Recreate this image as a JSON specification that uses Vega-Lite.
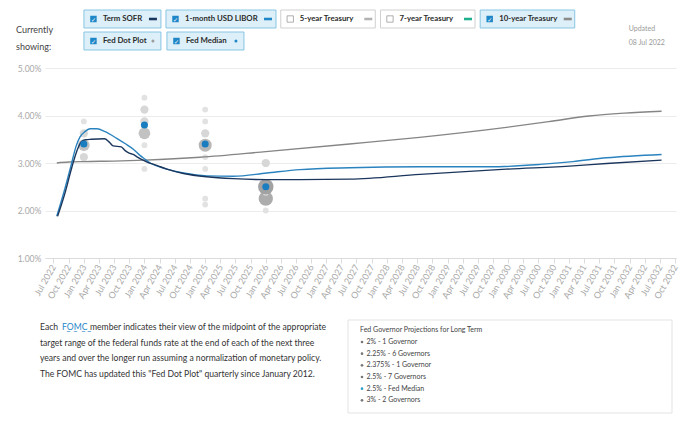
{
 "$schema": "https://vega.github.io/schema/vega-lite/v6.json",
 "background": "white",
 "padding": {"left": 16, "top": 8, "right": 4, "bottom": 4},
 "spacing": 12,
 "config": {"font": "Lato", "view": {"stroke": null}},
 "resolve": {"scale": {"color": "independent", "fill": "independent", "size": "independent", "stroke": "independent", "shape": "independent"}},
 "datasets": {
  "chips": [
   {"label": "Term SOFR", "group": "A", "row": 1, "col": 1, "checked": "yes", "kind": "line", "series": "Term SOFR"},
   {"label": "Fed Dot Plot", "group": "A", "row": 2, "col": 1, "checked": "yes", "kind": "dot", "series": "Fed Dot Plot"},
   {"label": "Fed Median", "group": "A", "row": 2, "col": 2, "checked": "yes", "kind": "dot", "series": "Fed Median"},
   {"label": "1-month USD LIBOR", "group": "B", "row": 1, "col": 2, "checked": "yes", "kind": "line", "series": "1-month USD LIBOR"},
   {"label": "5-year Treasury", "group": "C", "row": 1, "col": 3, "checked": "no", "kind": "line", "series": "5-year Treasury"},
   {"label": "7-year Treasury", "group": "C", "row": 1, "col": 4, "checked": "no", "kind": "line", "series": "7-year Treasury"},
   {"label": "10-year Treasury", "group": "C", "row": 1, "col": 5, "checked": "yes", "kind": "line", "series": "10-year Treasury"}
  ],
  "notes": [
   {"side": "left", "group": "C", "row": 1, "col": 1, "text": "Currently\nshowing:"},
   {"side": "right", "group": "C", "row": 1, "col": 5, "text": "Updated\n08 Jul 2022"}
  ],
  "lines": [
   {"series": "10-year Treasury", "date": "2022-07-22", "rate": 3.00},
   {"series": "10-year Treasury", "date": "2022-10-01", "rate": 3.02},
   {"series": "10-year Treasury", "date": "2023-01-01", "rate": 3.03},
   {"series": "10-year Treasury", "date": "2023-07-01", "rate": 3.04},
   {"series": "10-year Treasury", "date": "2024-01-01", "rate": 3.06},
   {"series": "10-year Treasury", "date": "2024-12-01", "rate": 3.12},
   {"series": "10-year Treasury", "date": "2026-01-01", "rate": 3.24},
   {"series": "10-year Treasury", "date": "2027-05-20", "rate": 3.40},
   {"series": "10-year Treasury", "date": "2028-07-15", "rate": 3.54},
   {"series": "10-year Treasury", "date": "2029-12-20", "rate": 3.75},
   {"series": "10-year Treasury", "date": "2030-09-01", "rate": 3.87},
   {"series": "10-year Treasury", "date": "2031-05-01", "rate": 3.99},
   {"series": "10-year Treasury", "date": "2031-12-01", "rate": 4.05},
   {"series": "10-year Treasury", "date": "2032-07-12", "rate": 4.09},
   {"series": "1-month USD LIBOR", "date": "2022-07-22", "rate": 1.88},
   {"series": "1-month USD LIBOR", "date": "2022-09-04", "rate": 2.40},
   {"series": "1-month USD LIBOR", "date": "2022-10-16", "rate": 2.95},
   {"series": "1-month USD LIBOR", "date": "2022-11-15", "rate": 3.35},
   {"series": "1-month USD LIBOR", "date": "2022-12-09", "rate": 3.55},
   {"series": "1-month USD LIBOR", "date": "2023-01-07", "rate": 3.66},
   {"series": "1-month USD LIBOR", "date": "2023-02-08", "rate": 3.72},
   {"series": "1-month USD LIBOR", "date": "2023-03-21", "rate": 3.72},
   {"series": "1-month USD LIBOR", "date": "2023-05-09", "rate": 3.66},
   {"series": "1-month USD LIBOR", "date": "2023-07-18", "rate": 3.52},
   {"series": "1-month USD LIBOR", "date": "2023-09-06", "rate": 3.41},
   {"series": "1-month USD LIBOR", "date": "2023-10-26", "rate": 3.29},
   {"series": "1-month USD LIBOR", "date": "2023-12-05", "rate": 3.16},
   {"series": "1-month USD LIBOR", "date": "2024-01-05", "rate": 3.08},
   {"series": "1-month USD LIBOR", "date": "2024-02-05", "rate": 3.00},
   {"series": "1-month USD LIBOR", "date": "2024-03-15", "rate": 2.94},
   {"series": "1-month USD LIBOR", "date": "2024-05-15", "rate": 2.87},
   {"series": "1-month USD LIBOR", "date": "2024-08-23", "rate": 2.79},
   {"series": "1-month USD LIBOR", "date": "2025-01-11", "rate": 2.73},
   {"series": "1-month USD LIBOR", "date": "2025-06-20", "rate": 2.72},
   {"series": "1-month USD LIBOR", "date": "2026-01-07", "rate": 2.79},
   {"series": "1-month USD LIBOR", "date": "2026-07-26", "rate": 2.86},
   {"series": "1-month USD LIBOR", "date": "2027-05-23", "rate": 2.90},
   {"series": "1-month USD LIBOR", "date": "2028-07-18", "rate": 2.92},
   {"series": "1-month USD LIBOR", "date": "2029-09-12", "rate": 2.92},
   {"series": "1-month USD LIBOR", "date": "2030-07-10", "rate": 2.97},
   {"series": "1-month USD LIBOR", "date": "2031-01-25", "rate": 3.03},
   {"series": "1-month USD LIBOR", "date": "2031-08-16", "rate": 3.11},
   {"series": "1-month USD LIBOR", "date": "2032-07-12", "rate": 3.18},
   {"series": "Term SOFR", "date": "2022-07-27", "rate": 1.88},
   {"series": "Term SOFR", "date": "2022-09-08", "rate": 2.35},
   {"series": "Term SOFR", "date": "2022-10-20", "rate": 2.90},
   {"series": "Term SOFR", "date": "2022-11-25", "rate": 3.30},
   {"series": "Term SOFR", "date": "2022-12-18", "rate": 3.45},
   {"series": "Term SOFR", "date": "2023-01-12", "rate": 3.49},
   {"series": "Term SOFR", "date": "2023-02-16", "rate": 3.50},
   {"series": "Term SOFR", "date": "2023-05-05", "rate": 3.51},
   {"series": "Term SOFR", "date": "2023-06-03", "rate": 3.44},
   {"series": "Term SOFR", "date": "2023-06-27", "rate": 3.36},
   {"series": "Term SOFR", "date": "2023-08-14", "rate": 3.34},
   {"series": "Term SOFR", "date": "2023-09-07", "rate": 3.26},
   {"series": "Term SOFR", "date": "2023-10-01", "rate": 3.21},
   {"series": "Term SOFR", "date": "2023-10-25", "rate": 3.18},
   {"series": "Term SOFR", "date": "2023-11-17", "rate": 3.13},
   {"series": "Term SOFR", "date": "2023-12-11", "rate": 3.08},
   {"series": "Term SOFR", "date": "2024-01-17", "rate": 3.02},
   {"series": "Term SOFR", "date": "2024-03-15", "rate": 2.95},
   {"series": "Term SOFR", "date": "2024-05-15", "rate": 2.87},
   {"series": "Term SOFR", "date": "2024-08-23", "rate": 2.78},
   {"series": "Term SOFR", "date": "2025-01-11", "rate": 2.71},
   {"series": "Term SOFR", "date": "2025-06-20", "rate": 2.67},
   {"series": "Term SOFR", "date": "2026-01-07", "rate": 2.65},
   {"series": "Term SOFR", "date": "2026-07-26", "rate": 2.65},
   {"series": "Term SOFR", "date": "2027-05-23", "rate": 2.66},
   {"series": "Term SOFR", "date": "2028-07-18", "rate": 2.76},
   {"series": "Term SOFR", "date": "2029-12-20", "rate": 2.87},
   {"series": "Term SOFR", "date": "2031-01-25", "rate": 2.94},
   {"series": "Term SOFR", "date": "2031-08-16", "rate": 2.99},
   {"series": "Term SOFR", "date": "2032-07-12", "rate": 3.06}
  ],
  "dots": [
   {"date": "2023-01-01", "rate": 3.875, "count": 1},
   {"date": "2023-01-01", "rate": 3.625, "count": 2},
   {"date": "2023-01-01", "rate": 3.125, "count": 2},
   {"date": "2023-01-01", "rate": 3.375, "count": 4},
   {"date": "2024-01-01", "rate": 4.375, "count": 1},
   {"date": "2024-01-01", "rate": 4.125, "count": 2},
   {"date": "2024-01-01", "rate": 3.875, "count": 2},
   {"date": "2024-01-01", "rate": 3.375, "count": 1},
   {"date": "2024-01-01", "rate": 2.875, "count": 1},
   {"date": "2024-01-01", "rate": 3.625, "count": 4},
   {"date": "2025-01-01", "rate": 4.125, "count": 1},
   {"date": "2025-01-01", "rate": 3.875, "count": 1},
   {"date": "2025-01-01", "rate": 3.625, "count": 2},
   {"date": "2025-01-01", "rate": 3.125, "count": 1},
   {"date": "2025-01-01", "rate": 2.875, "count": 1},
   {"date": "2025-01-01", "rate": 2.25, "count": 1},
   {"date": "2025-01-01", "rate": 2.125, "count": 1},
   {"date": "2025-01-01", "rate": 3.375, "count": 5},
   {"date": "2026-01-01", "rate": 2.0, "count": 1},
   {"date": "2026-01-01", "rate": 2.25, "count": 6},
   {"date": "2026-01-01", "rate": 2.375, "count": 1},
   {"date": "2026-01-01", "rate": 2.5, "count": 7},
   {"date": "2026-01-01", "rate": 3.0, "count": 2}
  ],
  "medians": [
   {"date": "2023-01-01", "rate": 3.4},
   {"date": "2024-01-01", "rate": 3.8},
   {"date": "2025-01-01", "rate": 3.4},
   {"date": "2026-01-01", "rate": 2.5}
  ],
  "proj": [
   {"panel": "box", "item": 0, "text": "Fed Governor Projections for Long Term", "bullet": "none"},
   {"panel": "box", "item": 1, "text": "2% - 1 Governor", "bullet": "gov"},
   {"panel": "box", "item": 2, "text": "2.25% - 6 Governors", "bullet": "gov"},
   {"panel": "box", "item": 3, "text": "2.375% - 1 Governor", "bullet": "gov"},
   {"panel": "box", "item": 4, "text": "2.5% - 7 Governors", "bullet": "gov"},
   {"panel": "box", "item": 5, "text": "2.5% - Fed Median", "bullet": "median"},
   {"panel": "box", "item": 6, "text": "3% - 2 Governors", "bullet": "gov"}
  ],
  "para": [
   {"block": "p", "line": 1, "part": "a", "text": "Each"},
   {"block": "p", "line": 1, "part": "link", "text": "F\u0332O\u0332M\u0332C\u0332"},
   {"block": "p", "line": 1, "part": "b", "text": "member indicates their view of the midpoint of the appropriate"},
   {"block": "p", "line": 2, "part": "a", "text": "target range of the federal funds rate at the end of each of the next three"},
   {"block": "p", "line": 3, "part": "a", "text": "years and over the longer run assuming a normalization of monetary policy."},
   {"block": "p", "line": 4, "part": "a", "text": "The FOMC has updated this \"Fed Dot Plot\" quarterly since January 2012."}
  ]
 },
 "vconcat": [
  {
   "width": 631,
   "height": 44,
   "data": {"name": "chips"},
   "resolve": {"scale": {"x": "independent"}},
   "encoding": {
    "y": {"field": "row", "type": "ordinal", "axis": null, "scale": {"type": "band", "domain": [1, 2], "paddingInner": 0.182, "paddingOuter": 0.091, "align": 0.5}}
   },
   "layer": [
    {
     "transform": [{"filter": "datum.group === 'A'"}],
     "layer": [
      {
       "mark": {"type": "rect", "fill": "#ddf0f9", "stroke": "#88c5e2", "strokeWidth": 1},
       "encoding": {"x": {"field": "col", "type": "ordinal", "axis": null, "scale": {"type": "band", "domain": [1, 2, 3, 4, 5, 6, 7], "paddingInner": 0.0723, "paddingOuter": 0.337, "align": 0.696}}}
      },
      {
       "mark": {"type": "point", "shape": "square", "filled": true, "fill": "#1f87c7", "size": 42, "opacity": 1, "xOffset": 9.5},
       "encoding": {"x": {"field": "col", "type": "ordinal", "axis": null, "bandPosition": 0, "scale": {"type": "band", "domain": [1, 2, 3, 4, 5, 6, 7], "paddingInner": 0.0723, "paddingOuter": 0.337, "align": 0.696}}}
      },
      {
       "mark": {"type": "text", "text": "\u2713", "font": "DejaVu Sans", "fontSize": 6, "fontWeight": "bold", "color": "#ffffff", "align": "center", "baseline": "middle", "dx": 9.5, "dy": 0.5},
       "encoding": {"x": {"field": "col", "type": "ordinal", "axis": null, "bandPosition": 0, "scale": {"type": "band", "domain": [1, 2, 3, 4, 5, 6, 7], "paddingInner": 0.0723, "paddingOuter": 0.337, "align": 0.696}}}
      },
      {
       "mark": {"type": "text", "font": "Lato", "fontSize": 7.8, "fontWeight": "bold", "color": "#2b2b2b", "align": "left", "baseline": "middle", "dx": 19},
       "encoding": {"x": {"field": "col", "type": "ordinal", "axis": null, "bandPosition": 0, "scale": {"type": "band", "domain": [1, 2, 3, 4, 5, 6, 7], "paddingInner": 0.0723, "paddingOuter": 0.337, "align": 0.696}}, "text": {"field": "label"}}
      },
      {
       "transform": [{"filter": "datum.kind === 'line'"}],
       "mark": {"type": "point", "shape": "M-1,-0.32H1V0.32H-1Z", "filled": true, "size": 64, "opacity": 1, "xOffset": -8},
       "encoding": {
        "x": {"field": "col", "type": "ordinal", "axis": null, "bandPosition": 1, "scale": {"type": "band", "domain": [1, 2, 3, 4, 5, 6, 7], "paddingInner": 0.0723, "paddingOuter": 0.337, "align": 0.696}},
        "color": {"field": "series", "type": "nominal", "legend": null, "scale": {"domain": ["Term SOFR", "1-month USD LIBOR", "5-year Treasury", "7-year Treasury", "10-year Treasury", "Fed Dot Plot", "Fed Median"], "range": ["#1b365d", "#1f87c7", "#b3b3b3", "#21b08f", "#8a8a8a", "#9c9c9c", "#1f87c7"]}}
       }
      },
      {
       "transform": [{"filter": "datum.kind === 'dot'"}],
       "mark": {"type": "point", "shape": "circle", "filled": true, "size": 9, "opacity": 1, "xOffset": -8},
       "encoding": {
        "x": {"field": "col", "type": "ordinal", "axis": null, "bandPosition": 1, "scale": {"type": "band", "domain": [1, 2, 3, 4, 5, 6, 7], "paddingInner": 0.0723, "paddingOuter": 0.337, "align": 0.696}},
        "color": {"field": "series", "type": "nominal", "legend": null, "scale": {"domain": ["Term SOFR", "1-month USD LIBOR", "5-year Treasury", "7-year Treasury", "10-year Treasury", "Fed Dot Plot", "Fed Median"], "range": ["#1b365d", "#1f87c7", "#b3b3b3", "#21b08f", "#8a8a8a", "#9c9c9c", "#1f87c7"]}}
       }
      }
     ]
    },
    {
     "transform": [{"filter": "datum.group === 'B'"}],
     "layer": [
      {
       "mark": {"type": "rect", "fill": "#ddf0f9", "stroke": "#88c5e2", "strokeWidth": 1},
       "encoding": {"x": {"field": "col", "type": "ordinal", "axis": null, "scale": {"type": "band", "domain": [1, 2, 3, 4, 5], "paddingInner": 0.0435, "paddingOuter": 0.265, "align": 0.098}}}
      },
      {
       "mark": {"type": "point", "shape": "square", "filled": true, "fill": "#1f87c7", "size": 42, "opacity": 1, "xOffset": 9.5},
       "encoding": {"x": {"field": "col", "type": "ordinal", "axis": null, "bandPosition": 0, "scale": {"type": "band", "domain": [1, 2, 3, 4, 5], "paddingInner": 0.0435, "paddingOuter": 0.265, "align": 0.098}}}
      },
      {
       "mark": {"type": "text", "text": "\u2713", "font": "DejaVu Sans", "fontSize": 6, "fontWeight": "bold", "color": "#ffffff", "align": "center", "baseline": "middle", "dx": 9.5, "dy": 0.5},
       "encoding": {"x": {"field": "col", "type": "ordinal", "axis": null, "bandPosition": 0, "scale": {"type": "band", "domain": [1, 2, 3, 4, 5], "paddingInner": 0.0435, "paddingOuter": 0.265, "align": 0.098}}}
      },
      {
       "mark": {"type": "text", "font": "Lato", "fontSize": 7.8, "fontWeight": "bold", "color": "#2b2b2b", "align": "left", "baseline": "middle", "dx": 19},
       "encoding": {"x": {"field": "col", "type": "ordinal", "axis": null, "bandPosition": 0, "scale": {"type": "band", "domain": [1, 2, 3, 4, 5], "paddingInner": 0.0435, "paddingOuter": 0.265, "align": 0.098}}, "text": {"field": "label"}}
      },
      {
       "mark": {"type": "point", "shape": "M-1,-0.32H1V0.32H-1Z", "filled": true, "size": 64, "opacity": 1, "xOffset": -8},
       "encoding": {
        "x": {"field": "col", "type": "ordinal", "axis": null, "bandPosition": 1, "scale": {"type": "band", "domain": [1, 2, 3, 4, 5], "paddingInner": 0.0435, "paddingOuter": 0.265, "align": 0.098}},
        "color": {"field": "series", "type": "nominal", "legend": null, "scale": {"domain": ["Term SOFR", "1-month USD LIBOR", "5-year Treasury", "7-year Treasury", "10-year Treasury", "Fed Dot Plot", "Fed Median"], "range": ["#1b365d", "#1f87c7", "#b3b3b3", "#21b08f", "#8a8a8a", "#9c9c9c", "#1f87c7"]}}
       }
      }
     ]
    },
    {
     "transform": [{"filter": "datum.group === 'C'"}],
     "layer": [
      {
       "transform": [{"filter": "datum.checked === 'yes'"}],
       "mark": {"type": "rect", "fill": "#ddf0f9", "stroke": "#88c5e2", "strokeWidth": 1},
       "encoding": {"x": {"field": "col", "type": "ordinal", "axis": null, "scale": {"type": "band", "domain": [1, 2, 3, 4, 5], "paddingInner": 0.052, "paddingOuter": 0.69, "align": 0.264}}}
      },
      {
       "transform": [{"filter": "datum.checked === 'no'"}],
       "mark": {"type": "rect", "fill": "#ffffff", "stroke": "#d0d0d0", "strokeWidth": 1},
       "encoding": {"x": {"field": "col", "type": "ordinal", "axis": null, "scale": {"type": "band", "domain": [1, 2, 3, 4, 5], "paddingInner": 0.052, "paddingOuter": 0.69, "align": 0.264}}}
      },
      {
       "transform": [{"filter": "datum.checked === 'yes'"}],
       "mark": {"type": "point", "shape": "square", "filled": true, "fill": "#1f87c7", "size": 42, "opacity": 1, "xOffset": 9.5},
       "encoding": {"x": {"field": "col", "type": "ordinal", "axis": null, "bandPosition": 0, "scale": {"type": "band", "domain": [1, 2, 3, 4, 5], "paddingInner": 0.052, "paddingOuter": 0.69, "align": 0.264}}}
      },
      {
       "transform": [{"filter": "datum.checked === 'no'"}],
       "mark": {"type": "point", "shape": "square", "filled": true, "fill": "#ffffff", "stroke": "#9b9b9b", "strokeWidth": 0.8, "size": 40, "opacity": 1, "xOffset": 9.5},
       "encoding": {"x": {"field": "col", "type": "ordinal", "axis": null, "bandPosition": 0, "scale": {"type": "band", "domain": [1, 2, 3, 4, 5], "paddingInner": 0.052, "paddingOuter": 0.69, "align": 0.264}}}
      },
      {
       "transform": [{"filter": "datum.checked === 'yes'"}],
       "mark": {"type": "text", "text": "\u2713", "font": "DejaVu Sans", "fontSize": 6, "fontWeight": "bold", "color": "#ffffff", "align": "center", "baseline": "middle", "dx": 9.5, "dy": 0.5},
       "encoding": {"x": {"field": "col", "type": "ordinal", "axis": null, "bandPosition": 0, "scale": {"type": "band", "domain": [1, 2, 3, 4, 5], "paddingInner": 0.052, "paddingOuter": 0.69, "align": 0.264}}}
      },
      {
       "mark": {"type": "text", "font": "Lato", "fontSize": 7.8, "fontWeight": "bold", "color": "#2b2b2b", "align": "left", "baseline": "middle", "dx": 19},
       "encoding": {"x": {"field": "col", "type": "ordinal", "axis": null, "bandPosition": 0, "scale": {"type": "band", "domain": [1, 2, 3, 4, 5], "paddingInner": 0.052, "paddingOuter": 0.69, "align": 0.264}}, "text": {"field": "label"}}
      },
      {
       "mark": {"type": "point", "shape": "M-1,-0.32H1V0.32H-1Z", "filled": true, "size": 64, "opacity": 1, "xOffset": -7},
       "encoding": {
        "x": {"field": "col", "type": "ordinal", "axis": null, "bandPosition": 1, "scale": {"type": "band", "domain": [1, 2, 3, 4, 5], "paddingInner": 0.052, "paddingOuter": 0.69, "align": 0.264}},
        "color": {"field": "series", "type": "nominal", "legend": null, "scale": {"domain": ["Term SOFR", "1-month USD LIBOR", "5-year Treasury", "7-year Treasury", "10-year Treasury", "Fed Dot Plot", "Fed Median"], "range": ["#1b365d", "#1f87c7", "#b3b3b3", "#21b08f", "#8a8a8a", "#9c9c9c", "#1f87c7"]}}
       }
      },
      {
       "data": {"name": "notes"},
       "transform": [{"filter": "datum.side === 'left'"}],
       "mark": {"type": "text", "font": "Lato", "fontSize": 9, "color": "#444444", "align": "left", "baseline": "middle", "lineBreak": "\n", "lineHeight": 17, "dx": -65.3, "dy": 2},
       "encoding": {
        "x": {"field": "col", "type": "ordinal", "axis": null, "bandPosition": 0, "scale": {"type": "band", "domain": [1, 2, 3, 4, 5], "paddingInner": 0.052, "paddingOuter": 0.69, "align": 0.264}},
        "y": {"field": "row", "type": "ordinal", "axis": null, "bandPosition": 1, "scale": {"type": "band", "domain": [1, 2], "paddingInner": 0.182, "paddingOuter": 0.091, "align": 0.5}},
        "text": {"field": "text"}
       }
      },
      {
       "data": {"name": "notes"},
       "transform": [{"filter": "datum.side === 'right'"}],
       "mark": {"type": "text", "font": "Lato", "fontSize": 7, "color": "#999999", "align": "left", "baseline": "middle", "lineBreak": "\n", "lineHeight": 14, "dx": 54, "dy": 1},
       "encoding": {
        "x": {"field": "col", "type": "ordinal", "axis": null, "bandPosition": 1, "scale": {"type": "band", "domain": [1, 2, 3, 4, 5], "paddingInner": 0.052, "paddingOuter": 0.69, "align": 0.264}},
        "y": {"field": "row", "type": "ordinal", "axis": null, "bandPosition": 1, "scale": {"type": "band", "domain": [1, 2], "paddingInner": 0.182, "paddingOuter": 0.091, "align": 0.5}},
        "text": {"field": "text"}
       }
      }
     ]
    }
   ]
  },
  {
   "width": 631,
   "height": 190,
   "layer": [
    {
     "data": {"name": "dots"},
     "mark": {"type": "circle", "opacity": 1},
     "encoding": {
      "x": {"field": "date", "type": "temporal",
        "scale": {"domain": [{"year": 2022, "month": 5, "date": 12}, {"year": 2032, "month": 10, "date": 7}]},
        "axis": {"title": null, "tickCount": {"interval": "month", "step": 3}, "format": "%b %Y", "labelAngle": -60, "labelAlign": "right", "labelBaseline": "middle", "labelOverlap": false, "labelFlush": false, "labelBound": false, "grid": false, "domainColor": "#dcdcdc", "tickColor": "#dcdcdc", "tickSize": 5, "labelColor": "#a9a9a9", "labelFontSize": 9, "labelFont": "Lato", "labelPadding": 2}},
      "y": {"field": "rate", "type": "quantitative",
        "scale": {"domain": [1, 5], "nice": false, "zero": false},
        "axis": {"title": null, "values": [1, 2, 3, 4, 5], "labelExpr": "format(datum.value, '.2f') + '%'", "grid": true, "gridColor": "#ececec", "domain": false, "ticks": false, "tickSize": 0, "labelPadding": 4, "labelColor": "#a9a9a9", "labelFontSize": 8.6, "labelFont": "Lato"}},
      "size": {"field": "count", "type": "quantitative", "legend": null, "scale": {"domain": [0, 7], "range": [0, 238]}},
      "fill": {"field": "count", "type": "quantitative", "legend": null, "scale": {"domain": [1, 7], "range": ["#e2e2e2", "#a2a2a2"]}}
     }
    },
    {
     "data": {"name": "lines"},
     "mark": {"type": "line", "strokeWidth": 1.4, "interpolate": "monotone"},
     "encoding": {
      "x": {"field": "date", "type": "temporal"},
      "y": {"field": "rate", "type": "quantitative"},
      "color": {"field": "series", "type": "nominal", "legend": null, "scale": {"domain": ["10-year Treasury", "1-month USD LIBOR", "Term SOFR"], "range": ["#858585", "#2a83bf", "#1b365d"]}}
     }
    },
    {
     "data": {"name": "medians"},
     "mark": {"type": "circle", "size": 50, "color": "#1a7dc0", "opacity": 1},
     "encoding": {
      "x": {"field": "date", "type": "temporal"},
      "y": {"field": "rate", "type": "quantitative"}
     }
    }
   ]
  },
  {
   "width": 627,
   "height": 104,
   "resolve": {"scale": {"x": "independent", "y": "independent"}},
   "layer": [
    {
     "data": {"values": [{"panel": "box"}]},
     "mark": {"type": "rect", "fill": "#ffffff", "stroke": "#e3e3e3", "strokeWidth": 1},
     "encoding": {
      "x": {"field": "panel", "type": "nominal", "axis": null, "scale": {"type": "band", "domain": ["box"], "paddingInner": 0, "paddingOuter": 0.4676, "align": 1}},
      "y": {"field": "panel", "type": "nominal", "axis": null, "scale": {"type": "band", "domain": ["box"], "paddingInner": 0, "paddingOuter": 0.0591, "align": 0.636}}
     }
    },
    {
     "data": {"name": "proj"},
     "transform": [{"filter": "datum.item === 0"}],
     "mark": {"type": "text", "font": "Lato", "fontSize": 7, "color": "#444444", "align": "left", "baseline": "middle", "dx": 12},
     "encoding": {
      "x": {"field": "panel", "type": "nominal", "axis": null, "bandPosition": 0, "scale": {"type": "band", "domain": ["box"], "paddingInner": 0, "paddingOuter": 0.4676, "align": 1}},
      "y": {"field": "item", "type": "ordinal", "axis": null, "scale": {"type": "band", "domain": [0, 1, 2, 3, 4, 5, 6], "paddingInner": 0, "paddingOuter": 0.956, "align": 0.516}},
      "text": {"field": "text"}
     }
    },
    {
     "data": {"name": "proj"},
     "transform": [{"filter": "datum.item > 0"}],
     "mark": {"type": "text", "font": "Lato", "fontSize": 7, "color": "#444444", "align": "left", "baseline": "middle", "dx": 18.5},
     "encoding": {
      "x": {"field": "panel", "type": "nominal", "axis": null, "bandPosition": 0, "scale": {"type": "band", "domain": ["box"], "paddingInner": 0, "paddingOuter": 0.4676, "align": 1}},
      "y": {"field": "item", "type": "ordinal", "axis": null, "scale": {"type": "band", "domain": [0, 1, 2, 3, 4, 5, 6], "paddingInner": 0, "paddingOuter": 0.956, "align": 0.516}},
      "text": {"field": "text"}
     }
    },
    {
     "data": {"name": "proj"},
     "transform": [{"filter": "datum.bullet === 'gov'"}],
     "mark": {"type": "point", "shape": "circle", "filled": true, "size": 7, "color": "#777777", "opacity": 1, "xOffset": 14},
     "encoding": {
      "x": {"field": "panel", "type": "nominal", "axis": null, "bandPosition": 0, "scale": {"type": "band", "domain": ["box"], "paddingInner": 0, "paddingOuter": 0.4676, "align": 1}},
      "y": {"field": "item", "type": "ordinal", "axis": null, "scale": {"type": "band", "domain": [0, 1, 2, 3, 4, 5, 6], "paddingInner": 0, "paddingOuter": 0.956, "align": 0.516}}
     }
    },
    {
     "data": {"name": "proj"},
     "transform": [{"filter": "datum.bullet === 'median'"}],
     "mark": {"type": "point", "shape": "circle", "filled": true, "size": 7, "color": "#2aa0c8", "opacity": 1, "xOffset": 14},
     "encoding": {
      "x": {"field": "panel", "type": "nominal", "axis": null, "bandPosition": 0, "scale": {"type": "band", "domain": ["box"], "paddingInner": 0, "paddingOuter": 0.4676, "align": 1}},
      "y": {"field": "item", "type": "ordinal", "axis": null, "scale": {"type": "band", "domain": [0, 1, 2, 3, 4, 5, 6], "paddingInner": 0, "paddingOuter": 0.956, "align": 0.516}}
     }
    },
    {
     "data": {"name": "para"},
     "transform": [{"filter": "datum.part === 'a'"}],
     "mark": {"type": "text", "font": "Lato", "fontSize": 8.6, "color": "#333333", "align": "left", "baseline": "middle", "dx": -5},
     "encoding": {
      "x": {"field": "block", "type": "nominal", "axis": null, "bandPosition": 0, "scale": {"type": "band", "domain": ["p"], "paddingInner": 0, "paddingOuter": 0}},
      "y": {"field": "line", "type": "ordinal", "axis": null, "scale": {"type": "band", "domain": [1, 2, 3, 4, 5, 6], "paddingInner": 0, "paddingOuter": 0.355, "align": 0.57}},
      "text": {"field": "text"}
     }
    },
    {
     "data": {"name": "para"},
     "transform": [{"filter": "datum.part === 'link'"}],
     "mark": {"type": "text", "font": "Lato", "fontSize": 8.6, "color": "#1f87c7", "align": "left", "baseline": "middle", "dx": 17},
     "encoding": {
      "x": {"field": "block", "type": "nominal", "axis": null, "bandPosition": 0, "scale": {"type": "band", "domain": ["p"], "paddingInner": 0, "paddingOuter": 0}},
      "y": {"field": "line", "type": "ordinal", "axis": null, "scale": {"type": "band", "domain": [1, 2, 3, 4, 5, 6], "paddingInner": 0, "paddingOuter": 0.355, "align": 0.57}},
      "text": {"field": "text"}
     }
    },
    {
     "data": {"name": "para"},
     "transform": [{"filter": "datum.part === 'b'"}],
     "mark": {"type": "text", "font": "Lato", "fontSize": 8.6, "color": "#333333", "align": "left", "baseline": "middle", "dx": 45},
     "encoding": {
      "x": {"field": "block", "type": "nominal", "axis": null, "bandPosition": 0, "scale": {"type": "band", "domain": ["p"], "paddingInner": 0, "paddingOuter": 0}},
      "y": {"field": "line", "type": "ordinal", "axis": null, "scale": {"type": "band", "domain": [1, 2, 3, 4, 5, 6], "paddingInner": 0, "paddingOuter": 0.355, "align": 0.57}},
      "text": {"field": "text"}
     }
    }
   ]
  }
 ]
}
